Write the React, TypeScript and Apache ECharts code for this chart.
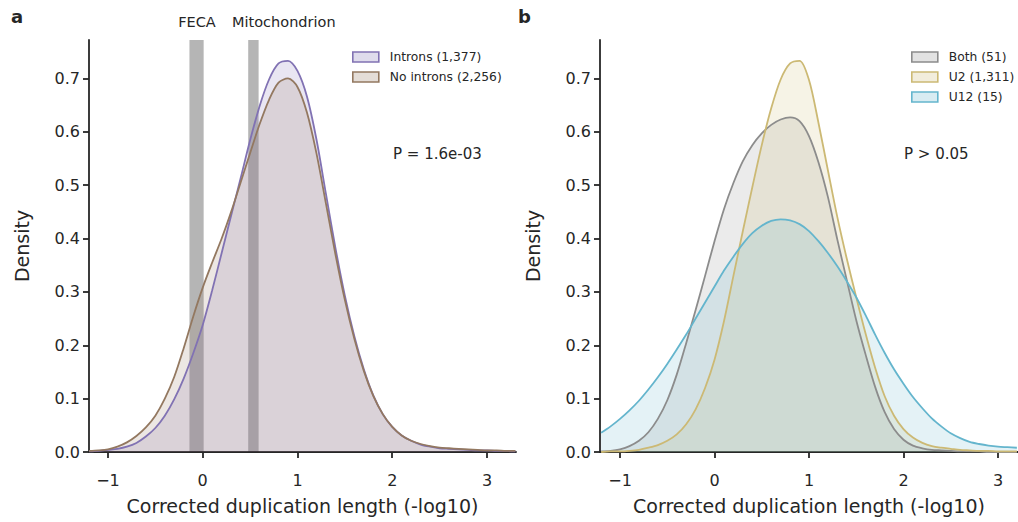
import React, { useEffect, useRef } from "react";
import * as echarts from "echarts";

// ---- Panel a data ----
const XA = [-1.2, -1.1, -1.0, -0.9, -0.8, -0.7, -0.6, -0.5, -0.4, -0.3, -0.2, -0.1, 0.0, 0.1, 0.2, 0.3, 0.4, 0.5, 0.6, 0.7, 0.8, 0.9, 1.0, 1.1, 1.2, 1.3, 1.4, 1.5, 1.6, 1.7, 1.8, 1.9, 2.0, 2.1, 2.2, 2.3, 2.4, 2.5, 2.6, 2.7, 2.8, 2.9, 3.0, 3.1, 3.2, 3.3];
const INTRONS = [0.001, 0.002, 0.004, 0.006, 0.010, 0.017, 0.029, 0.045, 0.068, 0.099, 0.138, 0.185, 0.238, 0.303, 0.373, 0.443, 0.513, 0.584, 0.648, 0.698, 0.728, 0.733, 0.714, 0.666, 0.586, 0.484, 0.383, 0.293, 0.217, 0.155, 0.106, 0.071, 0.047, 0.031, 0.021, 0.014, 0.010, 0.007, 0.006, 0.005, 0.004, 0.003, 0.003, 0.002, 0.002, 0.001];
const NO_INTRONS = [0.002, 0.003, 0.005, 0.010, 0.018, 0.030, 0.046, 0.068, 0.100, 0.141, 0.195, 0.254, 0.308, 0.355, 0.400, 0.450, 0.505, 0.560, 0.614, 0.660, 0.692, 0.700, 0.684, 0.636, 0.560, 0.466, 0.371, 0.285, 0.212, 0.152, 0.105, 0.071, 0.047, 0.031, 0.021, 0.015, 0.011, 0.008, 0.007, 0.006, 0.005, 0.004, 0.003, 0.003, 0.002, 0.002];
const FECA_RANGE = [-0.14, 0.01];
const MITO_RANGE = [0.48, 0.59];

// ---- Panel b data ----
const XB = [-1.2, -1.1, -1.0, -0.9, -0.8, -0.7, -0.6, -0.5, -0.4, -0.3, -0.2, -0.1, 0.0, 0.1, 0.2, 0.3, 0.4, 0.5, 0.6, 0.7, 0.8, 0.9, 1.0, 1.1, 1.2, 1.3, 1.4, 1.5, 1.6, 1.7, 1.8, 1.9, 2.0, 2.1, 2.2, 2.3, 2.4, 2.5, 2.6, 2.7, 2.8, 2.9, 3.0, 3.1, 3.2];
const BOTH = [0.001, 0.002, 0.005, 0.011, 0.021, 0.037, 0.062, 0.097, 0.145, 0.204, 0.266, 0.330, 0.395, 0.455, 0.504, 0.545, 0.575, 0.597, 0.613, 0.623, 0.627, 0.620, 0.592, 0.543, 0.478, 0.398, 0.322, 0.247, 0.182, 0.122, 0.075, 0.043, 0.023, 0.012, 0.007, 0.004, 0.003, 0.002, 0.001, 0.001, 0.001, 0.0, 0.0, 0.0, 0.0];
const U2 = [0.000, 0.001, 0.001, 0.002, 0.004, 0.008, 0.013, 0.021, 0.033, 0.052, 0.080, 0.120, 0.173, 0.245, 0.330, 0.414, 0.496, 0.575, 0.644, 0.698, 0.728, 0.733, 0.697, 0.617, 0.528, 0.440, 0.362, 0.290, 0.221, 0.158, 0.105, 0.068, 0.043, 0.027, 0.017, 0.011, 0.008, 0.006, 0.004, 0.003, 0.002, 0.002, 0.001, 0.001, 0.001];
const U12 = [0.036, 0.048, 0.062, 0.078, 0.096, 0.117, 0.140, 0.165, 0.192, 0.220, 0.250, 0.280, 0.310, 0.340, 0.366, 0.390, 0.410, 0.424, 0.433, 0.436, 0.434, 0.427, 0.414, 0.395, 0.373, 0.348, 0.320, 0.290, 0.256, 0.220, 0.186, 0.155, 0.128, 0.103, 0.082, 0.063, 0.048, 0.035, 0.026, 0.019, 0.015, 0.012, 0.010, 0.009, 0.008];

const X_TICKS = [-1, 0, 1, 2, 3];
const Y_TICKS = [0, 0.1, 0.2, 0.3, 0.4, 0.5, 0.6, 0.7];

const NAMES_A = ["Introns (1,377)", "No introns (2,256)"];
const NAMES_B = ["Both (51)", "U2 (1,311)", "U12 (15)"];
const COLORS_A = ["#8172B3", "#937860"];
const COLORS_B = ["#8C8C8C", "#CCB974", "#64B5CD"];

const INK = "#262626";
const FONT = "DejaVu Sans";

function hexA(hex: string, a: number) {
  const r = parseInt(hex.slice(1, 3), 16);
  const g = parseInt(hex.slice(3, 5), 16);
  const b = parseInt(hex.slice(5, 7), 16);
  return `rgba(${r},${g},${b},${a})`;
}

function zip(xs: number[], ys: number[]) {
  return xs.map((x, i) => [x, ys[i]]);
}

function xAxisFor(gridIndex: number, min: number, max: number) {
  return {
    type: "value",
    gridIndex,
    min,
    max,
    name: "Corrected duplication length (-log10)",
    nameLocation: "middle",
    nameGap: 44,
    nameTextStyle: { fontFamily: FONT, fontSize: 19, color: INK },
    axisLine: { show: true, onZero: false, lineStyle: { color: INK, width: 1.8 } },
    axisTick: { show: true, length: 6, customValues: X_TICKS, lineStyle: { color: INK, width: 1.8 } },
    axisLabel: {
      customValues: X_TICKS,
      margin: 20,
      fontFamily: FONT,
      fontSize: 16,
      color: INK,
      formatter: (v: number) => (v < 0 ? "\u2212" + Math.abs(v) : String(v)),
    },
    splitLine: { show: false },
  };
}

function yAxisFor(gridIndex: number) {
  return {
    type: "value",
    gridIndex,
    min: 0,
    max: 0.772,
    name: "Density",
    nameLocation: "middle",
    nameGap: 58,
    nameTextStyle: { fontFamily: FONT, fontSize: 19, color: INK },
    axisLine: { show: true, onZero: false, lineStyle: { color: INK, width: 1.8 } },
    axisTick: { show: true, length: 6, customValues: Y_TICKS, lineStyle: { color: INK, width: 1.8 } },
    axisLabel: {
      customValues: Y_TICKS,
      margin: 9,
      fontFamily: FONT,
      fontSize: 16,
      color: INK,
      formatter: (v: number) => v.toFixed(1),
    },
    splitLine: { show: false },
  };
}

function kdeSeries(name: string, color: string, xs: number[], ys: number[], idx: number) {
  return {
    type: "line",
    name,
    xAxisIndex: idx,
    yAxisIndex: idx,
    data: zip(xs, ys),
    smooth: 0.3,
    showSymbol: false,
    symbol: "none",
    lineStyle: { color, width: 1.8 },
    itemStyle: { color },
    areaStyle: { color: hexA(color, 0.25), origin: "start" },
    z: 2,
  };
}

export default function App() {
  const ref = useRef<HTMLDivElement>(null);

  useEffect(() => {
    if (!ref.current) return;
    const chart = echarts.init(ref.current, undefined, { renderer: "svg" });

    const legendItems = (names: string[], colors: string[]) =>
      names.map((n, i) => ({
        name: n,
        icon: "rect",
        itemStyle: { color: hexA(colors[i], 0.25), borderColor: colors[i], borderWidth: 1.6 },
      }));

    const legendBase = {
      orient: "vertical",
      top: 46,
      itemWidth: 26,
      itemHeight: 10,
      itemGap: 8,
      textStyle: { fontFamily: FONT, fontSize: 12.3, color: INK, padding: [0, 0, 0, 6] },
    };

    const option: any = {
      animation: false,
      backgroundColor: "#ffffff",
      grid: [
        { left: 89, right: 502, top: 40, bottom: 70 },
        { left: 600, right: 0, top: 40, bottom: 70 },
      ],
      xAxis: [xAxisFor(0, -1.2, 3.306), xAxisFor(1, -1.212, 3.212)],
      yAxis: [yAxisFor(0), yAxisFor(1)],
      legend: [
        { ...legendBase, left: 347, data: legendItems(NAMES_A, COLORS_A) },
        { ...legendBase, left: 906, data: legendItems(NAMES_B, COLORS_B) },
      ],
      series: [
        kdeSeries(NAMES_A[0], COLORS_A[0], XA, INTRONS, 0),
        kdeSeries(NAMES_A[1], COLORS_A[1], XA, NO_INTRONS, 0),
        {
          type: "line",
          name: "bands",
          xAxisIndex: 0,
          yAxisIndex: 0,
          data: [],
          z: 5,
          markArea: {
            silent: true,
            itemStyle: { color: "rgba(0,0,0,0.29)" },
            data: [
              [{ xAxis: FECA_RANGE[0] }, { xAxis: FECA_RANGE[1] }],
              [{ xAxis: MITO_RANGE[0] }, { xAxis: MITO_RANGE[1] }],
            ],
          },
        },
        kdeSeries(NAMES_B[0], COLORS_B[0], XB, BOTH, 1),
        kdeSeries(NAMES_B[1], COLORS_B[1], XB, U2, 1),
        kdeSeries(NAMES_B[2], COLORS_B[2], XB, U12, 1),
      ],
      graphic: [
        { type: "text", left: 11, top: 7, style: { text: "a", fontFamily: FONT, fontSize: 18, fontWeight: "bold", fill: INK } },
        { type: "text", left: 518, top: 7, style: { text: "b", fontFamily: FONT, fontSize: 18, fontWeight: "bold", fill: INK } },
        { type: "text", x: 197, y: 22, style: { text: "FECA", fontFamily: FONT, fontSize: 14.5, fill: INK, align: "center", verticalAlign: "middle" } },
        { type: "text", x: 232, y: 22, style: { text: "Mitochondrion", fontFamily: FONT, fontSize: 14.5, fill: INK, align: "left", verticalAlign: "middle" } },
        { type: "text", x: 393, y: 154, style: { text: "P = 1.6e-03", fontFamily: FONT, fontSize: 15, fill: INK, align: "left", verticalAlign: "middle" } },
        { type: "text", x: 904, y: 154, style: { text: "P > 0.05", fontFamily: FONT, fontSize: 15, fill: INK, align: "left", verticalAlign: "middle" } },
      ],
    };

    chart.setOption(option);
    return () => chart.dispose();
  }, []);

  return <div ref={ref} style={{ width: 1018, height: 522, position: "absolute", left: 0, top: 0 }} />;
}
